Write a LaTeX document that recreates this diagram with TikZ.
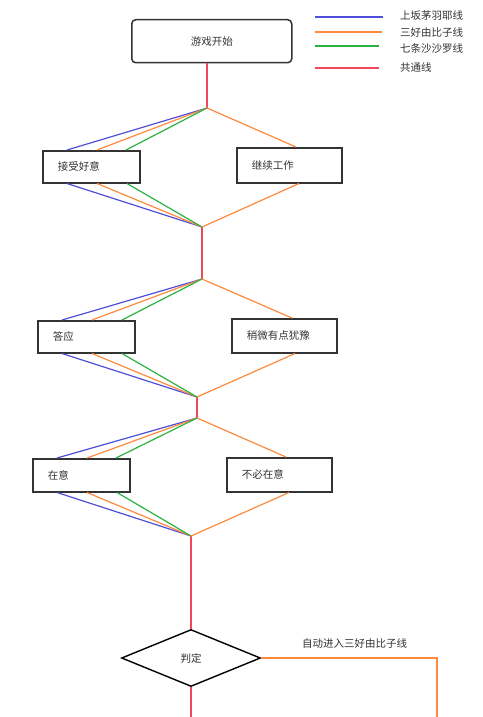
\documentclass[tikz,border=0pt]{standalone}
\usepackage{fontspec}
\newfontfamily\cjk{Noto Sans CJK SC}
\usetikzlibrary{shapes.geometric}
\definecolor{lblue}{HTML}{4F4FD9}
\definecolor{lorange}{HTML}{FF8A3D}
\definecolor{lgreen}{HTML}{2EB043}
\definecolor{lred}{HTML}{F0475A}
\definecolor{bord}{HTML}{333333}
\definecolor{txt}{HTML}{333333}
\begin{document}
\begin{tikzpicture}[x=1pt,y=-1pt,
  every node/.style={font=\cjk\fontsize{10.5}{12}\selectfont, text=txt},
  stepbox/.style={draw=bord, line width=1.5pt, inner xsep=15pt, inner ysep=0pt, align=left, anchor=north west},
  startbox/.style={draw=bord, line width=1.5pt, rounded corners=4pt, minimum width=160pt, minimum height=43pt, anchor=north west},
  judge/.style={draw=black, line width=1.4pt, shape=diamond, aspect=2.44, minimum width=139pt, minimum height=57pt, inner sep=0pt},
  bl/.style={draw=lblue, line width=1.2pt},
  ol/.style={draw=lorange, line width=1.2pt},
  gl/.style={draw=lgreen, line width=1.2pt},
  rl/.style={draw=lred, line width=1.3pt},
  legtext/.style={anchor=west, inner sep=0pt}
]
\useasboundingbox (0,0) rectangle (482,717);
\fill[white] (0,0) rectangle (482,717);

% legend
\coordinate (lb1) at (315,17); \coordinate (lb2) at (383,17);
\coordinate (lo1) at (315,32); \coordinate (lo2) at (382,32);
\coordinate (lg1) at (315,46); \coordinate (lg2) at (379,46);
\coordinate (lr1) at (315,68); \coordinate (lr2) at (379,68);
\draw[bl] (lb1) -- (lb2);
\draw[ol] (lo1) -- (lo2);
\draw[gl] (lg1) -- (lg2);
\draw[rl] (lr1) -- (lr2);
\node[legtext] (t1) at (400,16) {上坂茅羽耶线};
\node[legtext] (t2) at (400,33) {三好由比子线};
\node[legtext] (t3) at (400,49) {七条沙沙罗线};
\node[legtext] (t4) at (400,68) {共通线};

% nodes
\node[startbox] (start) at (131,19) {游戏开始};
\node[stepbox, text width=67pt, minimum height=32pt] (b1) at (42,150) {接受好意};
\node[stepbox, text width=75pt, minimum height=35pt] (b2) at (236,147) {继续工作};
\node[stepbox, text width=67pt, minimum height=32pt] (b3) at (37,320) {答应};
\node[stepbox, text width=75pt, minimum height=34pt] (b4) at (231,318) {稍微有点犹豫};
\node[stepbox, text width=67pt, minimum height=33pt] (b5) at (32,458) {在意};
\node[stepbox, text width=75pt, minimum height=34pt] (b6) at (226,457) {不必在意};
\node[judge] (jd) at (191,658) {判定};

% split / merge points
\coordinate (a1) at (207,108);
\coordinate (m1) at (202,227);
\coordinate (a2) at (202,279);
\coordinate (m2) at (197,397);
\coordinate (a3) at (197,418);
\coordinate (m3) at (191,536);
\coordinate (endr) at (191,717);
\coordinate (corner) at (437,658);
\coordinate (endo) at (437,717);

% common line
\draw[rl] (start.south -| a1) -- (a1);
\draw[rl] (m1) -- (a2);
\draw[rl] (m2) -- (a3);
\draw[rl] (m3) -- (jd.north);
\draw[rl] (jd.south) -- (endr);

% stage 1
\draw[bl] (a1) -- ([xshift=25pt]b1.north west);
\draw[ol] (a1) -- ([xshift=55pt]b1.north west);
\draw[gl] (a1) -- ([xshift=84pt]b1.north west);
\draw[ol] (a1) -- ([xshift=60pt]b2.north west);
\draw[bl] ([xshift=25pt]b1.south west) -- (m1);
\draw[ol] ([xshift=55pt]b1.south west) -- (m1);
\draw[gl] ([xshift=85pt]b1.south west) -- (m1);
\draw[ol] ([xshift=63pt]b2.south west) -- (m1);

% stage 2
\draw[bl] (a2) -- ([xshift=25pt]b3.north west);
\draw[ol] (a2) -- ([xshift=55pt]b3.north west);
\draw[gl] (a2) -- ([xshift=85pt]b3.north west);
\draw[ol] (a2) -- ([xshift=61pt]b4.north west);
\draw[bl] ([xshift=25pt]b3.south west) -- (m2);
\draw[ol] ([xshift=55pt]b3.south west) -- (m2);
\draw[gl] ([xshift=85pt]b3.south west) -- (m2);
\draw[ol] ([xshift=64pt]b4.south west) -- (m2);

% stage 3
\draw[bl] (a3) -- ([xshift=25pt]b5.north west);
\draw[ol] (a3) -- ([xshift=55pt]b5.north west);
\draw[gl] (a3) -- ([xshift=84pt]b5.north west);
\draw[ol] (a3) -- ([xshift=60pt]b6.north west);
\draw[bl] ([xshift=25pt]b5.south west) -- (m3);
\draw[ol] ([xshift=55pt]b5.south west) -- (m3);
\draw[gl] ([xshift=85pt]b5.south west) -- (m3);
\draw[ol] ([xshift=63pt]b6.south west) -- (m3);

% auto route
\draw[ol] (jd.east) -- (corner) -- (endo);
\node[anchor=base west, inner sep=0pt] (auto) at (302,647) {自动进入三好由比子线};
\end{tikzpicture}
\end{document}
